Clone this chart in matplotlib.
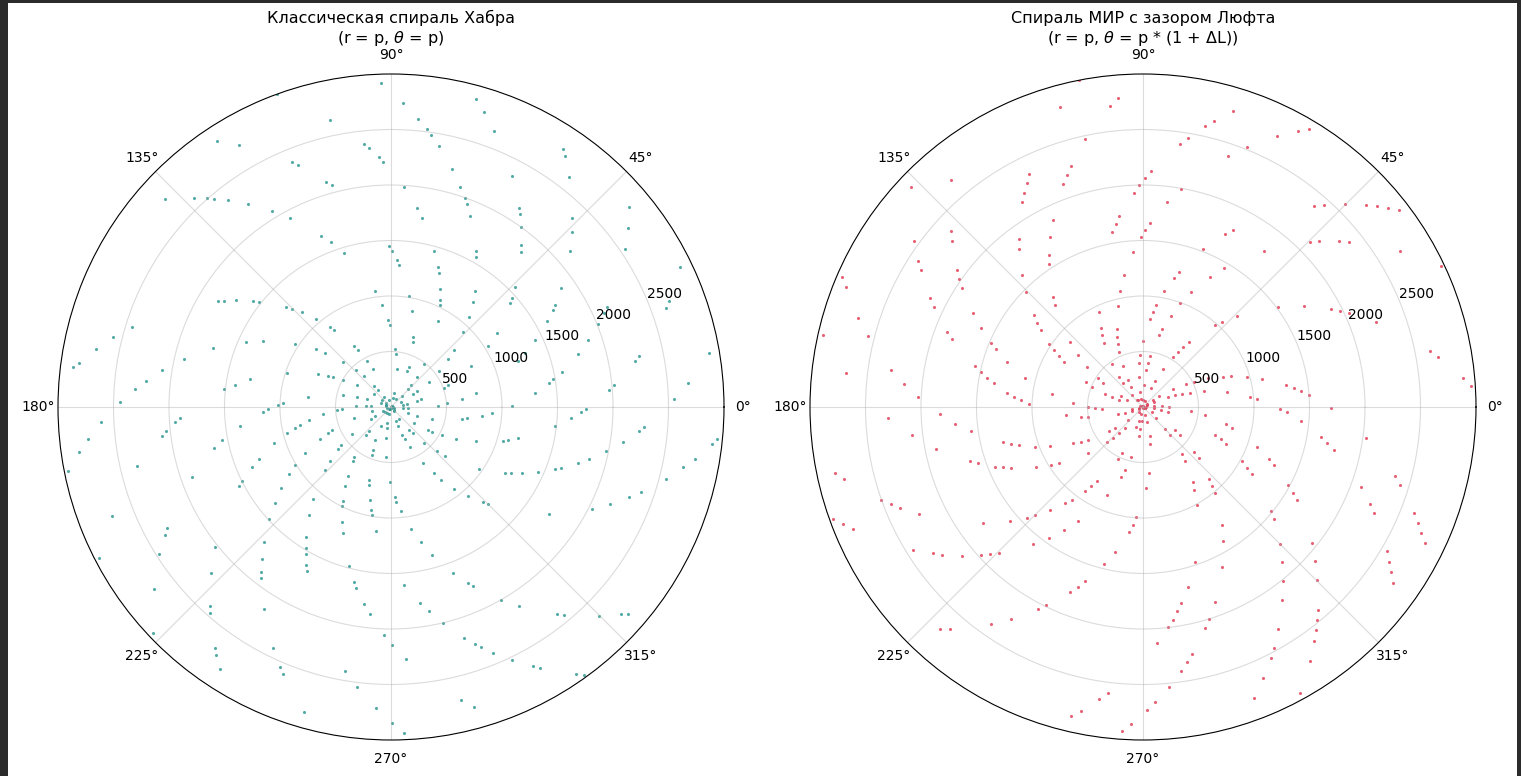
"""Prime spirals: classic r = p, theta = p versus the shifted 'MIR' spiral."""

import matplotlib
matplotlib.use("Agg")
import matplotlib.pyplot as plt
import numpy as np
from matplotlib.patches import Rectangle


P_MAX = 3000
DELTA_L = 0.618  # angular gap ("зазор Люфта")
RADIAL_TICKS = [500, 1000, 1500, 2000, 2500]

TITLE_LEFT = "Классическая спираль Хабра\n(r = p, $\\theta$ = p)"
TITLE_RIGHT = "Спираль МИР с зазором Люфта\n(r = p, $\\theta$ = p * (1 + ΔL))"


def primes_below(n: int) -> np.ndarray:
    sieve = np.ones(n, dtype=bool)
    sieve[:2] = False
    for i in range(2, int(n ** 0.5) + 1):
        if sieve[i]:
            sieve[i * i::i] = False
    return np.nonzero(sieve)[0]


PRIMES = primes_below(P_MAX)


def draw_spiral(ax, theta, r, color, title):
    ax.scatter(theta, r, s=5, color=color, alpha=0.8, linewidths=0)
    ax.set_rmax(P_MAX)
    ax.set_rticks(RADIAL_TICKS)
    ax.grid(True, alpha=0.45)
    ax.set_title(title, fontsize=11.5, pad=-8)


fig = plt.figure(figsize=(15.21, 7.76), dpi=100)
fig.patch.set_facecolor("#2b2b2b")
fig.patches.append(Rectangle((8 / 1521, 0), 1509 / 1521, 773 / 776,
                             transform=fig.transFigure, facecolor="white",
                             edgecolor="none", zorder=-10))

ax_left = fig.add_axes([58 / 1521, 36 / 776, 666 / 1521, 666 / 776], projection="polar")
ax_right = fig.add_axes([810 / 1521, 36 / 776, 666 / 1521, 666 / 776], projection="polar")

draw_spiral(ax_left, PRIMES, PRIMES, "#2a9690", TITLE_LEFT)
draw_spiral(ax_right, PRIMES * (1 + DELTA_L), PRIMES, "#e23a55", TITLE_RIGHT)

fig.savefig("out.png", dpi=100, facecolor=fig.get_facecolor())
